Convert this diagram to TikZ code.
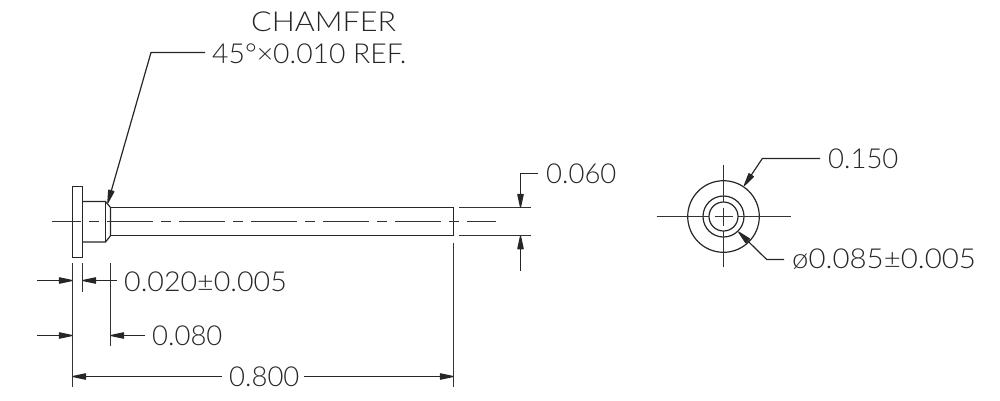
\documentclass[tikz,border=0pt]{standalone}
\usepackage{fontspec}
\setmainfont{Lato Light}
\usetikzlibrary{arrows.meta}
\tikzset{
  ln/.style={line width=1.2pt,black!85},
  thin ln/.style={line width=1pt,black!80},
  tipped/.style={ln,-{Triangle[length=16pt,width=6.5pt,round=false]}},
  lbl/.style={inner sep=0pt,anchor=base west,font=\fontsize{27.5}{27.5}\selectfont,text=black!85}
}
\begin{document}
\begin{tikzpicture}[x=1pt,y=-1pt]
\useasboundingbox (0,0) rectangle (1000,400);
% part outline
\draw[ln] (72.5,186.5) rectangle (82.5,257.5);
\draw[ln] (82.5,201.5) -- (105.5,201.5) -- (110.5,207.5) -- (110.5,235.7) -- (105.5,242) -- (82.5,242);
\draw[ln] (105.5,201.5) -- (105.5,242);
\draw[ln] (110.5,207.5) -- (453.5,207.5) -- (453.5,235.7) -- (110.5,235.7);
% centre line
\foreach \a/\b in {52/81,89/99,107/153,161/171,179/225,233/243,251/297,305/315,323/369,377/387,395/441,449/459,467/496}
  \draw[thin ln] (\a,221.5) -- (\b,221.5);
% extension lines
\draw[thin ln] (459,207.5) -- (530.7,207.5);
\draw[thin ln] (459,235.7) -- (530.7,235.7);
\draw[thin ln] (453.5,242.7) -- (453.5,387);
\draw[thin ln] (72.5,263) -- (72.5,387);
\draw[thin ln] (82.5,263) -- (82.5,291.7);
\draw[thin ln] (110.5,263) -- (110.5,345.7);
% labels
\node[lbl] (chamfer) at (251,31.5) {\scalebox{1.11}[1]{CHAMFER}};
\node[lbl] (ref) at (212,63) {\scalebox{1.03}[1]{45°×0.010 REF.}};
\node[lbl] (d060) at (546,183) {0.060};
\node[lbl] (d020) at (124,291.5) {\scalebox{1.04}[1]{0.020±0.005}};
\node[lbl] (d080) at (152,345.5) {0.080};
\node[lbl] (d800) at (229,386.5) {0.800};
\node[lbl] (d150) at (828,168) {0.150};
\node[lbl] (d085) at (792,268) {\scalebox{1.07}[1]{ø0.085±0.005}};
% chamfer leader
\coordinate (chTip) at (107.7,203.3);
\draw[tipped] (205,52.5) -- (151,52.5) -- (chTip);
% 0.060
\coordinate (a60) at (520.5,207.5);
\coordinate (b60) at (520.5,235.7);
\draw[tipped] (538,173.5) -- (520.5,173.5) -- (a60);
\draw[tipped] (520.5,270.7) -- (b60);
% 0.020
\coordinate (a20) at (72.5,280.5);
\coordinate (b20) at (82.5,280.5);
\draw[tipped] (37,280.5) -- (a20);
\draw[tipped] (116.7,280.5) -- (b20);
% 0.080
\coordinate (a80) at (72.5,335.5);
\coordinate (b80) at (110.5,335.5);
\draw[tipped] (37,335.5) -- (a80);
\draw[tipped] (145,335.5) -- (b80);
% 0.800
\coordinate (a800) at (72.5,376.5);
\coordinate (b800) at (453.5,376.5);
\draw[tipped] (221.7,376.5) -- (a800);
\draw[tipped] (304,376.5) -- (b800);
% end view
\coordinate (c) at (723.5,216.5);
\draw[ln] (c) circle[radius=35.8];
\draw[ln] (c) circle[radius=20.5];
\draw[ln] (c) circle[radius=14.5];
\draw[thin ln] (656.7,216.5) -- (709,216.5);
\draw[thin ln] (738,216.5) -- (790.7,216.5);
\draw[thin ln] (723.5,165) -- (723.5,202);
\draw[thin ln] (723.5,231) -- (723.5,267.3);
\draw[thin ln] (714.5,216.5) -- (732.5,216.5);
\draw[thin ln] (723.5,207.5) -- (723.5,225.5);
% end view leaders
\coordinate (t150) at (744,186);
\coordinate (t085) at (738.3,231.7);
\draw[tipped] (820,158.5) -- (762.3,158.5) -- (t150);
\draw[tipped] (784,259.5) -- (766.7,259.5) -- (t085);
\end{tikzpicture}
\end{document}
